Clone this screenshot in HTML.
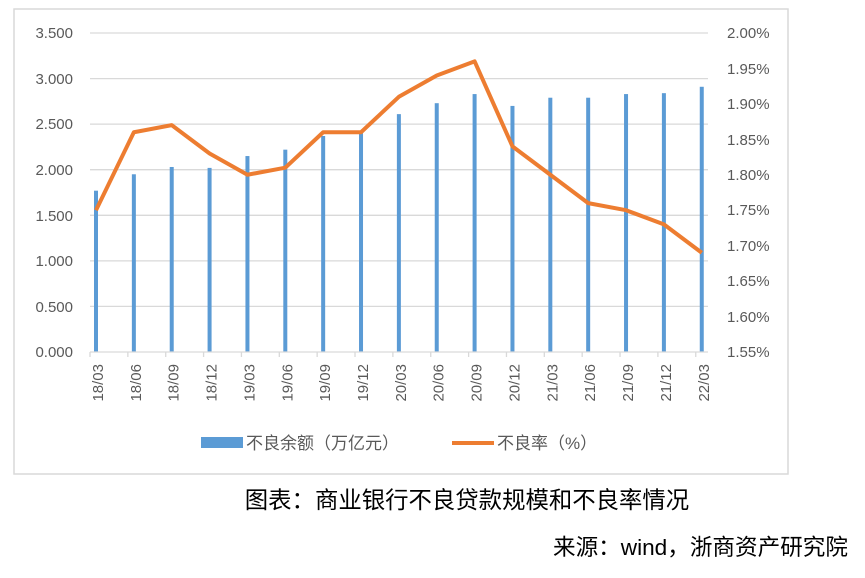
<!DOCTYPE html>
<html><head><meta charset="utf-8"><style>
body{margin:0;background:#fff;}
svg{display:block;font-family:"Liberation Sans","Noto Sans CJK SC",sans-serif;}
</style></head><body>
<svg width="865" height="578" viewBox="0 0 865 578" xmlns="http://www.w3.org/2000/svg">
<rect x="14" y="9" width="774" height="465" fill="#fff" stroke="#d9d9d9" stroke-width="1.5"/>
<g stroke="#d9d9d9" stroke-width="1.3">
<line x1="90" x2="708" y1="33" y2="33"/>
<line x1="90" x2="708" y1="78.6" y2="78.6"/>
<line x1="90" x2="708" y1="124.1" y2="124.1"/>
<line x1="90" x2="708" y1="169.7" y2="169.7"/>
<line x1="90" x2="708" y1="215.3" y2="215.3"/>
<line x1="90" x2="708" y1="260.9" y2="260.9"/>
<line x1="90" x2="708" y1="306.4" y2="306.4"/>
</g>
<g fill="#595959" font-size="15" text-anchor="end">
<text x="73" y="38">3.500</text><text x="73" y="84">3.000</text><text x="73" y="129">2.500</text>
<text x="73" y="175">2.000</text><text x="73" y="221">1.500</text><text x="73" y="266">1.000</text>
<text x="73" y="312">0.500</text><text x="73" y="357">0.000</text>
</g>
<g fill="#595959" font-size="15">
<text x="727" y="38">2.00%</text><text x="727" y="74">1.95%</text><text x="727" y="109">1.90%</text>
<text x="727" y="145">1.85%</text><text x="727" y="180">1.80%</text><text x="727" y="215">1.75%</text>
<text x="727" y="251">1.70%</text><text x="727" y="286">1.65%</text><text x="727" y="322">1.60%</text>
<text x="727" y="357">1.55%</text>
</g>
<g id="bars" fill="#5b9bd5"></g>
<line x1="90" x2="708" y1="352" y2="352" stroke="#d9d9d9" stroke-width="1.3"/>
<g id="ticks" stroke="#d9d9d9" stroke-width="1.3"></g>
<g id="xl" fill="#595959" font-size="15"></g>
<polyline id="ln" fill="none" stroke="#ed7d31" stroke-width="4" stroke-linejoin="round"/>
<rect x="201" y="437" width="42" height="11" fill="#5b9bd5"/>
<text x="246" y="449" font-size="17" fill="#595959">不良余额（万亿元）</text>
<line x1="452" x2="494" y1="443" y2="443" stroke="#ed7d31" stroke-width="4"/>
<text x="497" y="449" font-size="17" fill="#595959">不良率（%）</text>
<text x="467" y="508" font-size="23.4" text-anchor="middle" fill="#000">图表：商业银行不良贷款规模和不良率情况</text>
<text x="848" y="555" font-size="22.6" text-anchor="end" fill="#000">来源：wind，浙商资产研究院</text>
</svg>
<script>
var b=[1.77,1.95,2.03,2.02,2.15,2.22,2.37,2.40,2.61,2.73,2.83,2.70,2.79,2.79,2.83,2.84,2.91];
var r=[1.75,1.86,1.87,1.83,1.80,1.81,1.86,1.86,1.91,1.94,1.96,1.84,1.80,1.76,1.75,1.73,1.69];
var lab=["18/03","18/06","18/09","18/12","19/03","19/06","19/09","19/12","20/03","20/06","20/09","20/12","21/03","21/06","21/09","21/12","22/03"];
var s="",t="",x="",p=[];
for(var i=0;i<17;i++){var cx=96+37.86*i;var h=b[i]/0.5*45.57;
s+='<rect x="'+(cx-2)+'" y="'+(352-h)+'" width="4" height="'+h+'"/>';
var tx=90+37.86*i;t+='<line x1="'+tx+'" x2="'+tx+'" y1="352" y2="357"/>';
x+='<text transform="translate('+(cx+7)+',364) rotate(-90)" text-anchor="end">'+lab[i]+'</text>';
p.push(cx+','+(33+(2.0-r[i])/0.05*35.44));}
document.getElementById('bars').innerHTML=s;
document.getElementById('ticks').innerHTML=t;
document.getElementById('xl').innerHTML=x;
document.getElementById('ln').setAttribute('points',p.join(' '));
</script>
</body></html>
